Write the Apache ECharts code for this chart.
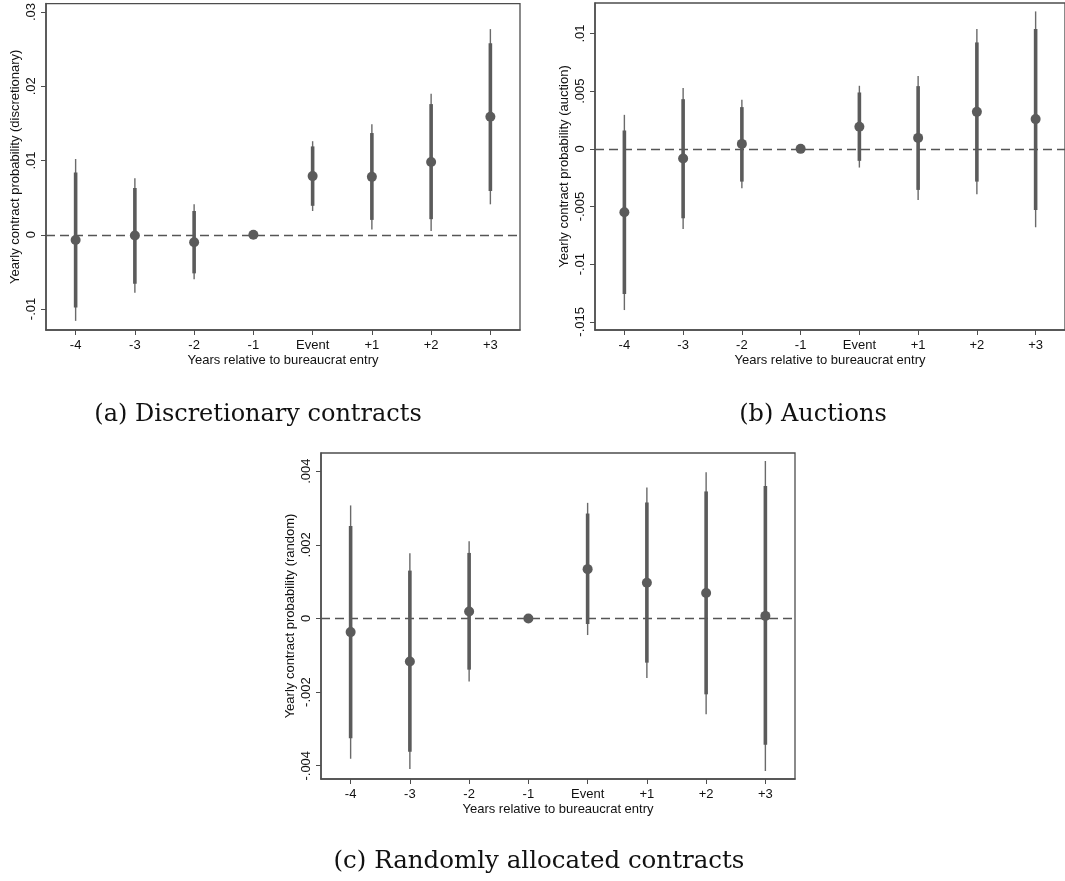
<!DOCTYPE html>
<html>
<head>
<meta charset="utf-8">
<script src="https://cdn.jsdelivr.net/npm/echarts@6/dist/echarts.min.js"></script>
<style>
  html, body { margin: 0; padding: 0; background: #fff; }
  #chart { width: 1065px; height: 881px; }
</style>
</head>
<body>
<div id="chart"></div>
<script>
// Event-study coefficients with 95% (thin) and 90% (thick) confidence intervals
const categories = ['-4', '-3', '-2', '-1', 'Event', '+1', '+2', '+3'];

// (a) Discretionary contracts
const discPoint = [-0.0007, -0.0001, -0.0010, 0, 0.0079, 0.0078, 0.0098, 0.0159];
const discLo95  = [-0.0116, -0.0078, -0.0060, 0, 0.0032, 0.0007, 0.0005, 0.0041];
const discHi95  = [ 0.0102,  0.0076,  0.0041, 0, 0.0126, 0.0149, 0.0190, 0.0277];
const discLo90  = [-0.0098, -0.0066, -0.0052, 0, 0.0039, 0.0020, 0.0021, 0.0059];
const discHi90  = [ 0.0084,  0.0063,  0.0032, 0, 0.0119, 0.0137, 0.0176, 0.0258];
const discTicks = [-0.01, 0, 0.01, 0.02, 0.03];

// (b) Auctions
const aucPoint = [-0.0055, -0.00084, 0.00043, 0, 0.00191, 0.00095, 0.00321, 0.00258];
const aucLo95  = [-0.01398, -0.00694, -0.00341, 0, -0.00162, -0.00443, -0.00393, -0.0068];
const aucHi95  = [ 0.00295,  0.00527,  0.00425, 0,  0.00547,  0.00631,  0.01039,  0.01192];
const aucLo90  = [-0.01259, -0.00602, -0.00284, 0, -0.00104, -0.00356, -0.00284, -0.0053];
const aucHi90  = [ 0.00159,  0.00431,  0.00362, 0,  0.00489,  0.00544,  0.00923,  0.01039];
const aucTicks = [-0.015, -0.01, -0.005, 0, 0.005, 0.01];

// (c) Randomly allocated contracts
const rndPoint = [-0.00037, -0.00117, 0.00019, 0, 0.00134, 0.00097, 0.00069, 0.00007];
const rndLo95  = [-0.00381, -0.00409, -0.00171, 0, -0.00045, -0.00162, -0.0026, -0.00414];
const rndHi95  = [ 0.00307,  0.00177,  0.0021,  0,  0.00314,  0.00356,  0.00397, 0.00428];
const rndLo90  = [-0.00325, -0.00362, -0.00139, 0, -0.00015, -0.0012, -0.00206, -0.00343];
const rndHi90  = [ 0.00251,  0.0013,   0.00178, 0,  0.00285,  0.00315,  0.00345, 0.0036];
const rndTicks = [-0.004, -0.002, 0, 0.002, 0.004];

const yTitles = [
  'Yearly contract probability (discretionary)',
  'Yearly contract probability (auction)',
  'Yearly contract probability (random)'
];
const xTitle = 'Years relative to bureaucrat entry';
const captions = ['(a) Discretionary contracts', '(b) Auctions', '(c) Randomly allocated contracts'];

const INK = '#5b5b5b';
const AXIS = '#4d4d4d';
const SANS = '"Liberation Sans", Arial, sans-serif';
const SERIF = '"DejaVu Serif", "Liberation Serif", serif';

// Stata-style tick text: drop the leading zero (".01", "-.005")
function stataNum(v) {
  if (Math.abs(v) < 1e-12) return '0';
  let s = String(+v.toPrecision(6));
  return s.replace(/^(-?)0\./, '$1.');
}

const panels = [
  { point: discPoint, lo95: discLo95, hi95: discHi95, lo90: discLo90, hi90: discHi90, ticks: discTicks,
    min: -0.01283, max: 0.03114, grid: { left: 46, top: 3, width: 474, height: 327 } },
  { point: aucPoint, lo95: aucLo95, hi95: aucHi95, lo90: aucLo90, hi90: aucHi90, ticks: aucTicks,
    min: -0.01571, max: 0.01265, grid: { left: 595, top: 3, width: 475, height: 327 } },
  { point: rndPoint, lo95: rndLo95, hi95: rndHi95, lo90: rndLo90, hi90: rndHi90, ticks: rndTicks,
    min: -0.00436, max: 0.004494, grid: { left: 321, top: 453, width: 474, height: 326 } }
];

const grid = [], xAxis = [], yAxis = [], series = [];

panels.forEach((p, i) => {
  grid.push(Object.assign({ show: true, borderColor: AXIS, borderWidth: 1.3, backgroundColor: '#fff' }, p.grid));

  xAxis.push({
    type: 'category', gridIndex: i, data: categories, boundaryGap: true,
    name: xTitle, nameLocation: 'middle', nameGap: 24,
    nameTextStyle: { fontFamily: SANS, fontSize: 13, color: '#111' },
    axisLine: { show: true, onZero: false, lineStyle: { color: AXIS, width: 1.5 } },
    axisTick: { show: true, alignWithLabel: true, length: 5, lineStyle: { color: AXIS, width: 1 } },
    axisLabel: { margin: 9, fontFamily: SANS, fontSize: 13, color: '#111' },
    splitLine: { show: false }
  });

  yAxis.push({
    type: 'value', gridIndex: i, min: p.min, max: p.max,
    name: yTitles[i], nameLocation: 'middle', nameGap: 24,
    nameTextStyle: { fontFamily: SANS, fontSize: 13, color: '#111' },
    axisLine: { show: true, onZero: false, lineStyle: { color: AXIS, width: 1.5 } },
    axisTick: { show: true, length: 5, customValues: p.ticks, lineStyle: { color: AXIS, width: 1 } },
    axisLabel: { rotate: 90, margin: 8, customValues: p.ticks, fontFamily: SANS, fontSize: 13, color: '#111',
                 formatter: v => stataNum(v) },
    splitLine: { show: false }
  });

  // confidence intervals: thin 95% line under a thicker 90% line
  const ciData = categories.map((c, k) => [k, p.lo95[k], p.hi95[k], p.lo90[k], p.hi90[k]]);
  series.push({
    type: 'custom', xAxisIndex: i, yAxisIndex: i, data: ciData, silent: true, z: 2,
    renderItem: function (params, api) {
      const x = api.value(0);
      if (api.value(1) === api.value(2)) return { type: 'group', children: [] };
      const a = api.coord([x, api.value(1)]);
      const b = api.coord([x, api.value(2)]);
      const c = api.coord([x, api.value(3)]);
      const d = api.coord([x, api.value(4)]);
      return {
        type: 'group',
        children: [
          { type: 'line', shape: { x1: a[0], y1: a[1], x2: b[0], y2: b[1] },
            style: { stroke: '#6a6a6a', lineWidth: 1.4 } },
          { type: 'line', shape: { x1: c[0], y1: c[1], x2: d[0], y2: d[1] },
            style: { stroke: INK, lineWidth: 3.6 } }
        ]
      };
    }
  });

  // point estimates, with the dashed zero reference line
  series.push({
    type: 'scatter', xAxisIndex: i, yAxisIndex: i, z: 3, silent: true,
    data: p.point.map((v, k) => [k, v]),
    symbol: 'circle', symbolSize: 10,
    itemStyle: { color: INK, opacity: 1 },
    markLine: {
      silent: true, symbol: 'none', label: { show: false }, z: 1,
      lineStyle: { color: '#555', type: [9, 5], width: 1.3 },
      data: [{ yAxis: 0 }]
    }
  });
});

const captionPos = [[258, 415], [813, 415], [539, 862]];
const captionSize = [24, 24, 24.5];

const chart = echarts.init(document.getElementById('chart'), null, { renderer: 'canvas' });
chart.setOption({
  animation: false,
  backgroundColor: '#fff',
  grid, xAxis, yAxis, series,
  graphic: captions.map((t, i) => ({
    type: 'text', x: captionPos[i][0], y: captionPos[i][1], silent: true,
    style: { text: t, font: captionSize[i] + 'px ' + SERIF, fill: '#111', textAlign: 'center', textVerticalAlign: 'middle' }
  }))
});
</script>
</body>
</html>
